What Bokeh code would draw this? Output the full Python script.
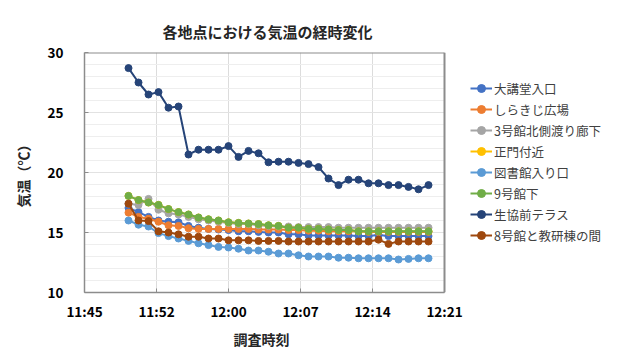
from bokeh.plotting import figure
from bokeh.models import FixedTicker, Legend, LegendItem, Range1d, Title
from bokeh.embed import file_html
from bokeh.resources import INLINE

times = ["11:50", "11:51", "11:52", "11:53", "11:54", "11:55", "11:56", "11:57", "11:58", "11:59",
         "12:00", "12:01", "12:02", "12:03", "12:04", "12:05", "12:06", "12:07", "12:08", "12:09",
         "12:10", "12:11", "12:12", "12:13", "12:14", "12:15", "12:16", "12:17", "12:18", "12:19", "12:20"]

daikodo = [17.05, 16.7, 16.3, 16.0, 15.9, 15.85, 15.55, 15.4, 15.3, 15.25, 15.2, 15.1, 15.1, 15.05, 15.0, 15.0,
           14.85, 14.85, 14.75, 14.75, 14.75, 14.75, 14.75, 14.7, 14.7, 14.8, 14.7, 14.7, 14.7, 14.7, 14.7]
shirakiji = [16.65, 16.3, 16.15, 15.9, 15.6, 15.55, 15.35, 15.3, 15.3, 15.3, 15.3, 15.3, 15.3, 15.25, 15.25, 15.25,
             15.2, 15.2, 15.15, 15.15, 15.1, 15.1, 15.1, 15.1, 15.05, 15.05, 15.05, 15.05, 15.05, 15.05, 15.05]
go3_kita = [17.4, 17.3, 17.8, 16.9, 16.6, 16.5, 16.3, 16.1, 16.0, 15.9, 15.8, 15.7, 15.7, 15.6, 15.55, 15.5,
            15.5, 15.45, 15.45, 15.45, 15.45, 15.4, 15.4, 15.4, 15.4, 15.4, 15.4, 15.4, 15.4, 15.4, 15.4]
seimon = [18.05, 17.7, 17.5, 17.3, 16.95, 16.7, 16.5, 16.25, 16.1, 16.0, 15.85, 15.8, 15.75, 15.7, 15.6, 15.55,
          15.4, 15.4, 15.3, 15.3, 15.25, 15.2, 15.2, 15.1, 15.1, 15.1, 15.1, 15.1, 15.1, 15.1, 15.1]
toshokan = [16.0, 15.65, 15.5, 14.95, 14.7, 14.5, 14.3, 14.1, 13.95, 13.8, 13.75, 13.65, 13.5, 13.5, 13.4, 13.25,
            13.25, 13.1, 13.0, 13.0, 13.0, 12.9, 12.9, 12.85, 12.85, 12.85, 12.85, 12.75, 12.8, 12.85, 12.85]
go9 = [18.05, 17.7, 17.5, 17.3, 16.95, 16.7, 16.5, 16.25, 16.1, 16.0, 15.85, 15.8, 15.75, 15.7, 15.6, 15.55,
       15.4, 15.4, 15.3, 15.3, 15.25, 15.2, 15.2, 15.1, 15.1, 15.1, 15.1, 15.1, 15.1, 15.1, 15.1]
seikyo = [28.7, 27.5, 26.5, 26.7, 25.4, 25.5, 21.5, 21.9, 21.9, 21.9, 22.2, 21.3, 21.8, 21.6, 20.85, 20.9,
          20.9, 20.8, 20.7, 20.45, 19.5, 18.95, 19.4, 19.4, 19.1, 19.1, 18.95, 18.95, 18.8, 18.6, 18.95]
go8 = [17.4, 16.0, 15.95, 15.1, 15.0, 14.85, 14.65, 14.65, 14.5, 14.5, 14.35, 14.35, 14.35, 14.3, 14.3, 14.3,
       14.25, 14.25, 14.25, 14.25, 14.25, 14.25, 14.25, 14.25, 14.25, 14.4, 14.05, 14.25, 14.25, 14.25, 14.25]

series_names = ["大講堂入口", "しらきじ広場", "3号館北側渡り廊下", "正門付近", "図書館入り口", "9号館下", "生協前テラス", "8号館と教研棟の間"]
series_values = [daikodo, shirakiji, go3_kita, seimon, toshokan, go9, seikyo, go8]
series_colors = ["#4472C4", "#ED7D31", "#A5A5A5", "#FFC000", "#5B9BD5", "#70AD47", "#264478", "#9E480E"]

tick_times = ["11:45:36", "11:52:48", "12:00:00", "12:07:12", "12:14:24", "12:21:36"]
tick_labels = ["11:45", "11:52", "12:00", "12:07", "12:14", "12:21"]
y_major = [10, 15, 20, 25, 30]
y_minor = [11, 12, 13, 14, 16, 17, 18, 19, 21, 22, 23, 24, 26, 27, 28, 29]


def to_min(t):
    parts = [int(v) for v in t.split(":")]
    while len(parts) < 3:
        parts.append(0)
    return parts[0] * 60 + parts[1] + parts[2] / 60.0


x = [to_min(t) for t in times]
tick_pos = [to_min(t) for t in tick_times]
x_lo, x_hi = tick_pos[0], tick_pos[-1]
y_lo, y_hi = y_major[0], y_major[-1]

FONT = "Noto Sans CJK JP"
FRAME_LEFT, FRAME_RIGHT_PAD = 84, 8
PX_PER_MIN = 10.0
frame_w = 628 - FRAME_LEFT - FRAME_RIGHT_PAD

p = figure(width=628, height=353, output_backend="svg", toolbar_location=None,
           x_range=Range1d(x_lo, x_lo + frame_w / PX_PER_MIN), y_range=Range1d(y_lo, y_hi),
           min_border_left=FRAME_LEFT, min_border_right=FRAME_RIGHT_PAD, min_border_top=52, min_border_bottom=61)

p.title.visible = False
p.add_layout(Title(text="各地点における気温の経時変化", align="left", offset=78,
                   text_font=FONT, text_font_size="15px", text_font_style="bold",
                   text_color="#262626", standoff=22), "above")

p.background_fill_color = "white"
p.border_fill_color = "white"
p.outline_line_color = None

# horizontal grid lines limited to the plot box
hy = sorted(y_minor)
p.segment(x0=[x_lo] * len(hy), x1=[x_hi] * len(hy), y0=hy, y1=hy, line_color="#eeeeee", line_width=1)
my = y_major[1:-1]
p.segment(x0=[x_lo] * len(my), x1=[x_hi] * len(my), y0=my, y1=my, line_color="#e2e2e2", line_width=1)
# plot box top and right borders
p.segment(x0=[x_lo, x_hi], x1=[x_hi, x_hi], y0=[y_hi, y_lo], y1=[y_hi, y_hi], line_color="#8c8c8c", line_width=2)

items = []
for name, vals, col in zip(series_names, series_values, series_colors):
    r1 = p.line(x, vals, line_color=col, line_width=2)
    r2 = p.scatter(x, vals, marker="circle", size=7, fill_color=col, line_color=col)
    items.append(LegendItem(label=name, renderers=[r1, r2]))

legend = Legend(items=items, location=(386, 47), padding=0, margin=0, spacing=1,
                glyph_width=22, glyph_height=20, label_height=20, label_standoff=2,
                label_text_font=FONT, label_text_font_size="12.5px", label_text_color="#404040",
                border_line_color=None, background_fill_alpha=0)
p.add_layout(legend, "center")

# axes
p.xaxis.ticker = FixedTicker(ticks=tick_pos)
p.xaxis.major_label_overrides = {tp: lab for tp, lab in zip(tick_pos, tick_labels)}
p.xaxis.bounds = (x_lo, x_hi)
p.yaxis.ticker = FixedTicker(ticks=y_major, minor_ticks=y_minor)
p.xgrid.ticker = FixedTicker(ticks=tick_pos[1:-1])
p.ygrid.visible = False

for ax in (p.xaxis[0], p.yaxis[0]):
    ax.axis_line_color = "#8c8c8c"
    ax.axis_line_width = 1.5
    ax.major_tick_line_color = "#8c8c8c"
    ax.major_tick_in = 4
    ax.major_tick_out = 0
    ax.minor_tick_line_color = None
    ax.major_label_text_font = FONT
    ax.major_label_text_font_size = "13.5px"
    ax.major_label_text_font_style = "bold"
    ax.major_label_text_color = "#000000"
    ax.axis_label_text_font = FONT
    ax.axis_label_text_font_size = "14px"
    ax.axis_label_text_font_style = "bold"
    ax.axis_label_text_color = "#262626"

p.add_layout(Title(text="調査時刻", align="left", offset=149,
                   text_font=FONT, text_font_size="14px", text_font_style="bold",
                   text_color="#262626", standoff=6), "below")
p.yaxis.axis_label = "気温（℃）"
p.xaxis.major_label_standoff = 8
p.yaxis.major_label_standoff = 17
p.yaxis.axis_label_standoff = 12

p.xgrid.grid_line_color = "#dcdcdc"

open("out.html", "w").write(file_html(p, INLINE))
